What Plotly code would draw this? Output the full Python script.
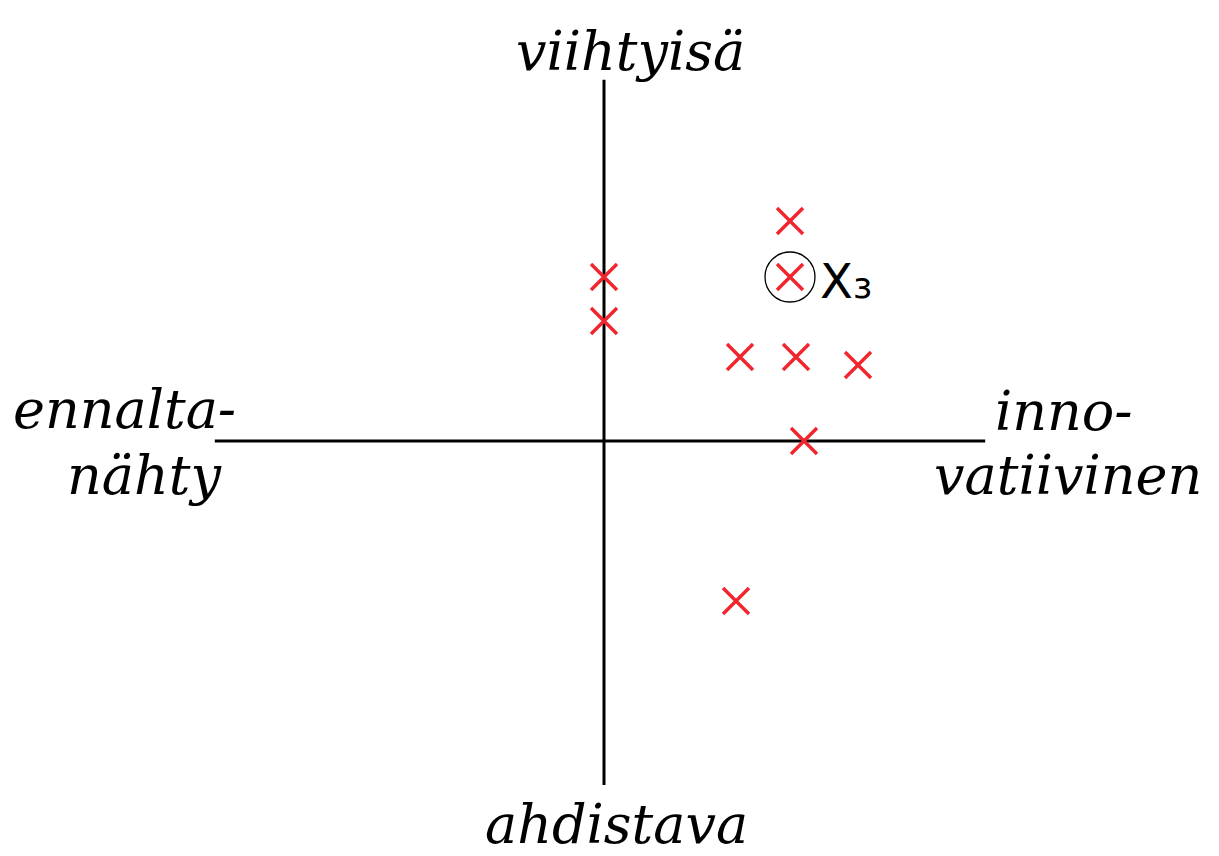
import plotly.graph_objects as go

# Data (units: center of the cross = 0,0)
point_x = [4.65, 4.65, 0.0, 0.0, 3.4, 4.8, 6.35, 5.0, 3.3]
point_y = [5.5, 4.1, 4.1, 3.0, 2.1, 2.1, 1.9, 0.0, -4.0]
highlight_x = [4.65]
highlight_y = [4.1]
highlight_main = "X"
highlight_sub = "з"

axis_x_span = [-9.73, 9.53]
axis_y_span = [-8.6, 9.03]

label_top = "viihtyisä"
label_bottom = "ahdistava"
label_left = ["ennalta-", "nähty"]
label_right = ["inno-", "vatiivinen"]

FONT = "DejaVu Serif"
RED = "#f2242c"

fig = go.Figure()
fig.add_trace(go.Scatter(x=axis_x_span, y=[0, 0], mode="lines",
                         line=dict(color="black", width=3), hoverinfo="skip"))
fig.add_trace(go.Scatter(x=[0, 0], y=axis_y_span, mode="lines",
                         line=dict(color="black", width=3), hoverinfo="skip"))
fig.add_trace(go.Scatter(x=point_x, y=point_y, mode="markers",
                         marker=dict(symbol="x-thin-open", size=26, color=RED,
                                     line=dict(color=RED, width=3.4))))
fig.add_trace(go.Scatter(x=highlight_x, y=highlight_y, mode="markers",
                         marker=dict(symbol="circle-open", size=50, color="black",
                                     line=dict(color="black", width=1.3))))

def txt(x, y, t, size=54, xanchor="center"):
    fig.add_annotation(x=x, y=y, text=t, showarrow=False, xanchor=xanchor,
                       yanchor="middle",
                       font=dict(family=FONT, size=size, color="black", style="italic"))

txt(0.65, 9.75, label_top)
txt(0.3, -9.58, label_bottom)
txt(-12.0, 0.8, label_left[0])
txt(-11.5, -0.85, label_left[1])
txt(11.5, 0.75, label_right[0])
txt(11.6, -0.85, label_right[1])
fig.add_annotation(x=5.35, y=4.0,
                   text=highlight_main + "<span style='font-size:36px'>" + highlight_sub + "</span>",
                   showarrow=False, xanchor="left", yanchor="middle",
                   font=dict(family="DejaVu Sans", size=48, color="black"))

# page body has an 8px margin: figure is sized/ranged to compensate
fig.update_layout(width=1211, height=848, margin=dict(l=0, r=0, t=0, b=0),
                  paper_bgcolor="white", plot_bgcolor="white", showlegend=False,
                  xaxis=dict(range=[-14.9, 15.375], visible=False, fixedrange=True),
                  yaxis=dict(range=[-10.375, 10.825], visible=False, fixedrange=True))
fig.write_html("out.html")
